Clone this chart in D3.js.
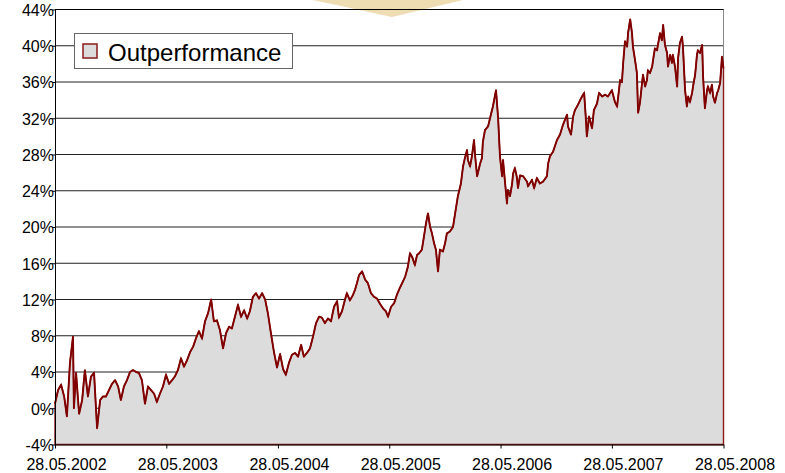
<!DOCTYPE html>
<html>
<head>
<meta charset="utf-8">
<script src="https://cdn.jsdelivr.net/npm/d3@7"></script>
<style>
    body { margin: 0; background: #fff; }
    svg { display: block; font-family: "Liberation Sans", Arial, sans-serif; }
</style>
</head>
<body>
<svg id="chart" width="785" height="473"></svg>
<script>
// days after 28.05.2002 and the outperformance (%) read at that day
const dayOffsets = [
    0, 10, 20, 30, 39, 49, 59, 62, 69, 79, 89, 98, 108, 118, 128, 138, 148, 157, 167, 177,
    187, 197, 207, 216, 226, 236, 246, 256, 266, 275, 285, 295, 305, 315, 325, 334, 344, 354, 364, 374,
    384, 393, 403, 413, 423, 433, 443, 453, 462, 472, 482, 492, 502, 512, 521, 531, 541, 551, 561, 571,
    580, 590, 600, 610, 620, 630, 639, 649, 659, 669, 679, 689, 698, 708, 718, 728, 738, 748, 757, 767,
    777, 787, 797, 807, 816, 826, 836, 846, 856, 866, 875, 885, 895, 905, 915, 925, 931, 941, 951, 957,
    967, 977, 984, 990, 997, 1007, 1017, 1026, 1036, 1046, 1056, 1066, 1076, 1085, 1092, 1102, 1112, 1121, 1131, 1141,
    1148, 1157, 1164, 1171, 1180, 1187, 1194, 1203, 1210, 1217, 1223, 1230, 1236, 1243, 1249, 1256, 1262, 1272, 1279, 1285,
    1295, 1305, 1312, 1321, 1331, 1338, 1344, 1351, 1354, 1361, 1367, 1374, 1377, 1384, 1394, 1400, 1403, 1410, 1420, 1430,
    1436, 1446, 1453, 1459, 1466, 1469, 1476, 1482, 1485, 1492, 1499, 1502, 1508, 1515, 1518, 1525, 1535, 1548, 1551, 1564,
    1571, 1580, 1590, 1600, 1613, 1617, 1623, 1633, 1646, 1656, 1666, 1679, 1682, 1692, 1699, 1705, 1715, 1722, 1728, 1735,
    1741, 1744, 1751, 1761, 1767, 1777, 1784, 1794, 1804, 1813, 1826, 1836, 1843, 1853, 1859, 1863, 1869, 1876, 1879, 1886,
    1892, 1895, 1902, 1908, 1912, 1918, 1925, 1928, 1935, 1941, 1944, 1951, 1958, 1961, 1967, 1974, 1977, 1984, 1990, 1994,
    2000, 2007, 2010, 2017, 2023, 2026, 2033, 2040, 2043, 2049, 2056, 2059, 2066, 2072, 2076, 2082, 2089, 2092, 2099, 2105,
    2108, 2115, 2122, 2125, 2131, 2138, 2141, 2148, 2154, 2158, 2164, 2171, 2174, 2181, 2187, 2192
];

const outperformance = [
    0.5, 2.0, 2.6, 1.3, -0.9, 5.0, 7.9, 0.0, 3.9, -0.6, 0.9, 4.2, 1.3, 3.5, 3.9, -2.2, 0.9, 1.3, 1.3, 2.0,
    2.7, 3.1, 2.4, 0.9, 2.4, 3.1, 4.0, 4.2, 4.0, 3.9, 3.1, 0.5, 2.4, 2.0, 1.6, 0.7, 1.6, 2.4, 3.7, 2.7,
    3.1, 3.5, 4.2, 5.5, 4.6, 5.3, 6.2, 6.8, 7.7, 8.5, 7.7, 9.6, 10.5, 12.0, 9.6, 9.7, 8.6, 6.6, 8.3, 9.0,
    8.8, 10.1, 11.4, 10.1, 10.8, 9.9, 10.7, 12.3, 12.7, 12.1, 12.7, 12.0, 10.5, 8.3, 6.2, 4.5, 6.0, 4.3, 3.7, 5.0,
    5.9, 6.1, 5.7, 7.0, 5.7, 6.1, 6.6, 7.9, 9.4, 10.1, 10.0, 9.4, 9.9, 9.6, 11.2, 11.8, 10.0, 10.7, 12.0, 12.7,
    11.9, 12.5, 13.1, 13.8, 14.7, 15.1, 14.2, 13.8, 12.7, 12.3, 12.1, 11.5, 11.0, 10.7, 10.1, 11.2, 11.6, 12.5, 13.3, 14.0,
    14.5, 15.6, 17.1, 16.7, 15.8, 16.9, 17.1, 17.5, 19.0, 20.5, 21.5, 20.0, 19.3, 18.2, 17.5, 15.1, 17.5, 17.3, 18.2, 19.3,
    19.5, 20.0, 21.5, 23.4, 24.8, 26.7, 27.6, 28.5, 27.4, 26.7, 27.8, 29.6, 28.1, 25.6, 27.0, 27.6, 29.4, 30.7, 31.1, 32.5,
    33.3, 35.1, 32.0, 27.8, 25.6, 27.4, 24.8, 22.6, 24.1, 23.4, 24.8, 25.9, 26.5, 25.4, 24.3, 25.7, 25.6, 25.0, 24.5, 25.2,
    24.3, 25.4, 24.8, 25.0, 25.6, 27.0, 27.8, 28.3, 29.6, 30.2, 31.3, 32.4, 31.1, 30.2, 32.2, 32.9, 33.5, 34.0, 34.4, 34.8,
    31.8, 30.0, 32.2, 30.9, 32.9, 33.6, 34.8, 34.4, 34.6, 34.4, 35.1, 33.8, 33.3, 36.2, 36.0, 38.1, 40.5, 39.9, 41.4, 42.9,
    41.4, 39.9, 38.4, 37.0, 32.6, 33.7, 35.9, 36.8, 35.5, 36.2, 37.3, 37.0, 37.7, 38.4, 39.7, 39.5, 40.1, 41.4, 40.6, 42.3,
    40.1, 39.2, 37.7, 39.0, 38.1, 39.0, 37.7, 35.5, 38.6, 40.3, 41.0, 39.9, 35.1, 33.3, 34.4, 33.8, 34.8, 35.5, 36.8, 39.0,
    39.5, 39.2, 40.1, 36.6, 33.1, 35.1, 35.5, 34.8, 35.7, 34.4, 33.7, 34.8, 35.0, 35.9, 38.8, 37.5
];

const yTicks = [-4, 0, 4, 8, 12, 16, 20, 24, 28, 32, 36, 40, 44];
const xTickYears = [2002, 2003, 2004, 2005, 2006, 2007, 2008];
const seriesName = "Outperformance";

let startDate = new Date(2002, 4, 28);
let data = dayOffsets.map((d, i) => ({
    date: d3.timeDay.offset(startDate, d),
    value: outperformance[i]
}));

let svg = d3.select("#chart");

let x = d3.scaleTime()
    .domain([startDate, new Date(2008, 4, 28)])
    .range([55, 723.5]);

let y = d3.scaleLinear()
    .domain([-4, 44])
    .range([444.5, 9.5]);

// decorative tab at the top
svg.append("polygon")
    .attr("points", "313,0 463,0 392,17")
    .attr("fill", "#eedcb3");

// gridlines
svg.append("g")
    .selectAll("line")
    .data(yTicks.filter(t => t > -4))
    .join("line")
    .attr("x1", 55)
    .attr("x2", 723.5)
    .attr("y1", d => y(d))
    .attr("y2", d => y(d))
    .attr("stroke", "#222")
    .attr("stroke-width", 1);

// right frame
svg.append("line")
    .attr("x1", 723.5).attr("x2", 723.5)
    .attr("y1", y(44)).attr("y2", y(-4))
    .attr("stroke", "#888");

let area = d3.area()
    .x(d => x(d.date))
    .y0(y(-4))
    .y1(d => y(d.value));

svg.append("path")
    .datum(data)
    .attr("d", area)
    .attr("fill", "#dcdcdc")
    .attr("stroke", "#8b1a1a")
    .attr("stroke-width", 1.4);

let line = d3.line()
    .x(d => x(d.date))
    .y(d => y(d.value));

svg.append("path")
    .datum(data)
    .attr("d", line)
    .attr("fill", "none")
    .attr("stroke", "#800000")
    .attr("stroke-width", 1.9)
    .attr("stroke-linejoin", "round");

// x axis, labels sit a little right of their ticks like the original
let xAxis = d3.axisBottom(x)
    .tickValues(xTickYears.map(yr => new Date(yr, 4, 28)))
    .tickFormat(d3.timeFormat("%d.%m.%Y"))
    .tickSize(4)
    .tickSizeOuter(0);

let gx = svg.append("g")
    .attr("transform", `translate(0,${y(-4)})`)
    .call(xAxis);
gx.select(".domain").attr("stroke", "#000");
gx.selectAll(".tick line").attr("stroke", "#000");
gx.selectAll(".tick text")
    .attr("x", 11)
    .attr("y", 14)
    .attr("dy", "0.71em")
    .attr("fill", "#000")
    .style("font-size", "16px")
    .style("font-family", "'Liberation Sans', Arial, sans-serif");

// y axis
let yAxis = d3.axisLeft(y)
    .tickValues(yTicks)
    .tickFormat(d => d + "%")
    .tickSize(3)
    .tickSizeOuter(0);

let gy = svg.append("g")
    .attr("transform", "translate(55,0)")
    .call(yAxis);
gy.select(".domain").attr("stroke", "#000");
gy.selectAll(".tick line").attr("stroke", "#000");
gy.selectAll(".tick text")
    .attr("x", -1)
    .attr("dy", "0.36em")
    .attr("fill", "#000")
    .style("font-size", "16px")
    .style("font-family", "'Liberation Sans', Arial, sans-serif");

// top frame line on top
svg.append("line")
    .attr("x1", 55).attr("x2", 723.5)
    .attr("y1", y(44)).attr("y2", y(44))
    .attr("stroke", "#000");

// legend
let legend = svg.append("g");
legend.append("rect")
    .attr("x", 74.5).attr("y", 33.5)
    .attr("width", 218).attr("height", 35)
    .attr("fill", "#fff")
    .attr("stroke", "#666");
legend.append("rect")
    .attr("x", 83).attr("y", 44)
    .attr("width", 14).attr("height", 14)
    .attr("fill", "#dcdcdc")
    .attr("stroke", "#8b1a1a")
    .attr("stroke-width", 1.5);
legend.append("text")
    .attr("x", 108).attr("y", 61)
    .attr("fill", "#000")
    .style("font-size", "24px")
    .text(seriesName);
</script>
</body>
</html>
